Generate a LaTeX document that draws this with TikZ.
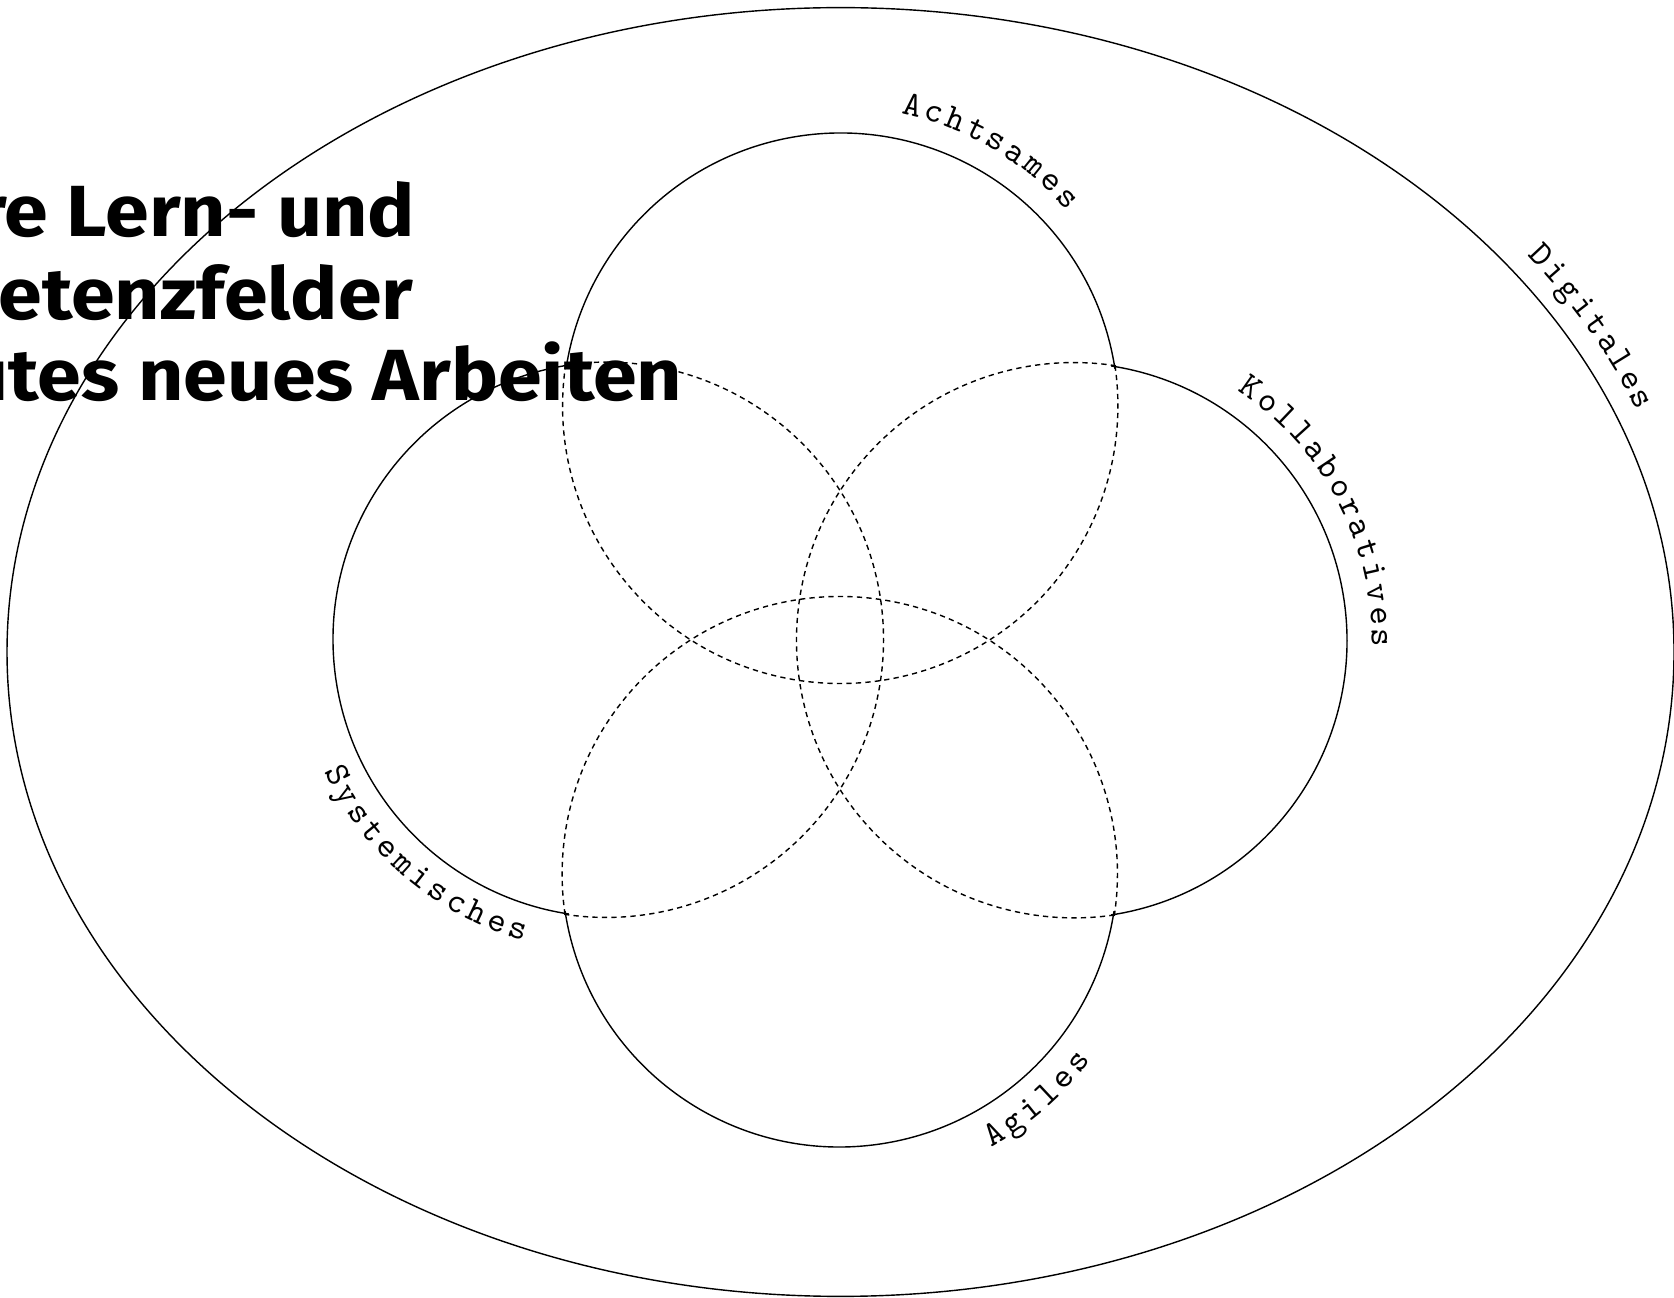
\documentclass[tikz,border=0pt]{standalone}
\usepackage{fontspec}
\newfontfamily\titlefont{Fira Sans}[FakeStretch=1.09]
\usepackage{tikz}
\usetikzlibrary{shapes.geometric}
\definecolor{ink}{HTML}{000000}
\tikzset{
  field/.style={circle, minimum size=5.55cm, inner sep=0pt, outer sep=0pt},
  fieldline/.style={draw=ink, line width=0.4pt},
  fielddash/.style={fieldline, dash pattern=on 1.5pt off 1.2pt},
  fieldlabel/.style={font=\ttfamily\fontsize{10}{12}\selectfont, text=ink,
                     inner sep=0pt, anchor=base},
  headline/.style={font=\titlefont\bfseries\fontsize{20.6}{24}\selectfont,
                   text=ink, inner sep=0pt, anchor=base east}
}
% letters of a label, one by one round a circle node
\newcommand{\fieldtext}[6]{%
  \foreach \ch [count=\i from 0] in {#6} {
    \pgfmathsetmacro\pos{#2+\i*(#3)}
    \node[fieldlabel, rotate=\pos+#5] (#1-\i) at ([shift={(\pos:#4)}]#1.center) {\ch};
  }}

\begin{document}
\begin{tikzpicture}[x=0.01cm, y=0.01cm]
  \useasboundingbox (0,0) rectangle (1674,1297);

  \node[ellipse, fieldline, minimum width=16.66cm, minimum height=12.88cm,
        inner sep=0pt, outer sep=0pt] (digital) at (840.5,645) {};
  \node[field] (achtsam) at (840,889.5) {};
  \node[field] (system)  at (607.5,657) {};
  \node[field] (agil)    at (840,424.5) {};
  \node[field] (kollab)  at (1072.5,657) {};

  % outer part solid, part inside the others dashed
  \foreach \f/\s in {achtsam/0, system/90, agil/180, kollab/270} {
    \pgfmathsetmacro\a{\s+8.66}
    \pgfmathsetmacro\b{\s+171.34}
    \pgfmathsetmacro\c{\s+368.66}
    \draw[fieldline] (\f.\a) arc[start angle=\a, end angle=\b, radius=2.775cm];
    \draw[fielddash] (\f.\b) arc[start angle=\b, end angle=\c, radius=2.775cm];
  }

  \fieldtext{achtsam}{76.5}{-4.225}{3.0cm}{-90}{A,c,h,t,s,a,m,e,s}
  \fieldtext{kollab}{54.7}{-4.18}{2.99cm}{-90}{K,o,l,l,a,b,o,r,a,t,i,v,e,s}
  \fieldtext{system}{206.6}{4.21}{3.12cm}{90}{S,y,s,t,e,m,i,s,c,h,e,s}
  \fieldtext{agil}{-59.5}{4.2}{3.13cm}{90}{A,g,i,l,e,s}

  \foreach \ch [count=\i from 0] in {D,i,g,i,t,a,l,e,s} {
    \pgfmathsetmacro\pos{35.8-\i*1.725}
    \pgfmathsetmacro\tilt{atan2(-644*cos(\pos),833*sin(\pos))}
    \node[fieldlabel, rotate=\tilt] (digital-\i)
      at ([shift={({855*cos(\pos)},{666*sin(\pos)})}]digital.center) {\ch};
  }

  \node[headline] (line1) at (416,1060) {re Lern- und};
  \node[headline] (line2) at (414,977) {etenzfelder};
  \node[headline] (line3) at (683,896) {utes neues Arbeiten};
\end{tikzpicture}
\end{document}
